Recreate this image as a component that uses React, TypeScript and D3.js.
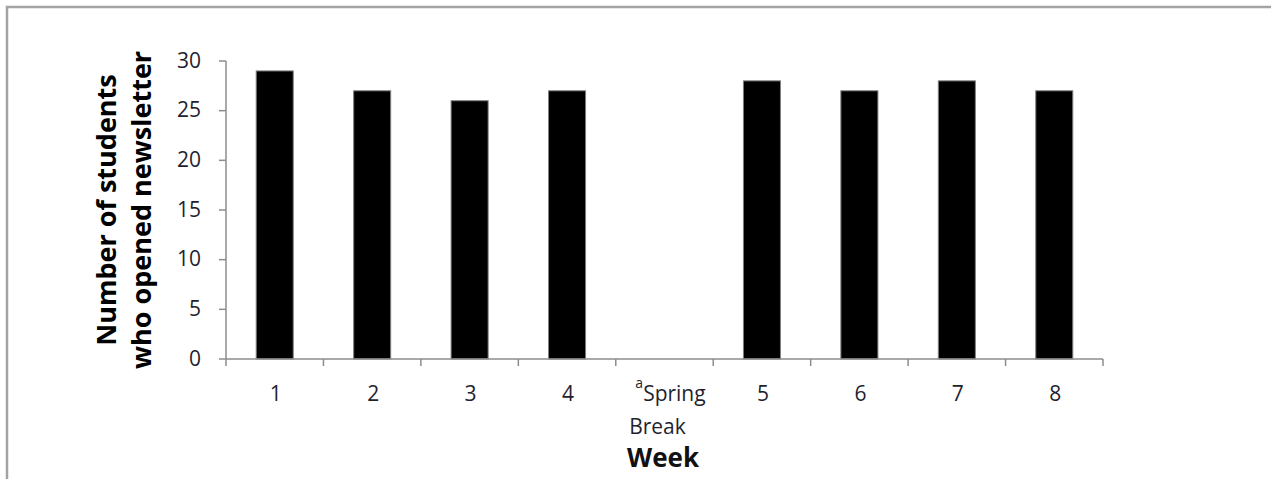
import React from "react";
import * as d3 from "d3";

const categories = ["1", "2", "3", "4", "Spring Break", "5", "6", "7", "8"];
const values: (number | null)[] = [29, 27, 26, 27, null, 28, 27, 28, 27];
const yTicks = [0, 5, 10, 15, 20, 25, 30];
const yTitleLines = ["Number of students", "who opened newsletter"];
const xTitle = "Week";

const W = 1271;
const H = 479;
const left = 226;
const right = 1103;
const top = 61;
const bottom = 359;
const axisColor = "#8c8c8c";
const labelColor = "#1f1f2e";
const font = "'Open Sans', 'Noto Sans', sans-serif";

export default function App() {
  const xBand = d3.scaleBand<string>().domain(categories).range([left, right]).padding(0);
  const xBar = d3
    .scaleBand<string>()
    .domain(categories)
    .range([left, right])
    .paddingInner(0.62)
    .paddingOuter(0.31);
  const y = d3.scaleLinear().domain([0, 30]).range([bottom, top]);

  const boundaries = categories.map((c) => xBand(c) as number).concat([right]);

  return (
    <svg
      width={W}
      height={H}
      style={{ position: "absolute", left: 0, top: 0, background: "#fff" }}
      fontFamily={font}
    >
      <rect x={0} y={0} width={W} height={H} fill="#fff" />
      {/* frame */}
      <path d={`M7,${H + 5} L7,7 L${W + 5},7`} fill="none" stroke="#a3a3a3" strokeWidth={2.5} />

      {/* bars */}
      {categories.map((c, i) => {
        const v = values[i];
        if (v === null) return null;
        return (
          <rect
            key={c}
            x={xBar(c)}
            y={y(v)}
            width={xBar.bandwidth()}
            height={y(0) - y(v)}
            fill="#000"
            stroke="#7f7f7f"
            strokeWidth={1}
          />
        );
      })}

      {/* y axis */}
      <line x1={left} x2={left} y1={top} y2={bottom} stroke={axisColor} strokeWidth={1.5} />
      {yTicks.map((t) => (
        <g key={t}>
          <line x1={left - 7} x2={left} y1={y(t)} y2={y(t)} stroke={axisColor} strokeWidth={1.5} />
          <text
            x={201}
            y={y(t) + 6.5}
            textAnchor="end"
            fontSize={21}
            fill={labelColor}
          >
            {t}
          </text>
        </g>
      ))}

      {/* x axis */}
      <line x1={left} x2={right} y1={bottom} y2={bottom} stroke={axisColor} strokeWidth={1.5} />
      {boundaries.map((bx, i) => (
        <line key={i} x1={bx} x2={bx} y1={bottom} y2={bottom + 7} stroke={axisColor} strokeWidth={1.5} />
      ))}
      {categories.map((c) => {
        const cx = (xBand(c) as number) + xBand.bandwidth() / 2;
        if (c === "Spring Break") {
          return (
            <g key={c} fill={labelColor}>
              <text x={cx + 6} y={401} textAnchor="middle" fontSize={21}>
                <tspan fontSize={14} dy={-13}>a</tspan>
                <tspan dy={13}>Spring</tspan>
              </text>
              <text x={cx - 7} y={434} textAnchor="middle" fontSize={21}>
                Break
              </text>
            </g>
          );
        }
        return (
          <text key={c} x={cx + 1} y={401} textAnchor="middle" fontSize={21} fill={labelColor}>
            {c}
          </text>
        );
      })}

      {/* axis titles */}
      <text
        transform={`translate(663,467)`}
        textAnchor="middle"
        fontSize={26}
        fontWeight="bold"
        fill="#111"
      >
        {xTitle}
      </text>
      <g transform={`translate(0,210) rotate(-90)`}>
        <text x={0} y={116} textAnchor="middle" fontSize={27} fontWeight="bold" fill="#000">
          {yTitleLines[0]}
        </text>
        <text x={0} y={151} textAnchor="middle" fontSize={27} fontWeight="bold" fill="#000">
          {yTitleLines[1]}
        </text>
      </g>
    </svg>
  );
}
